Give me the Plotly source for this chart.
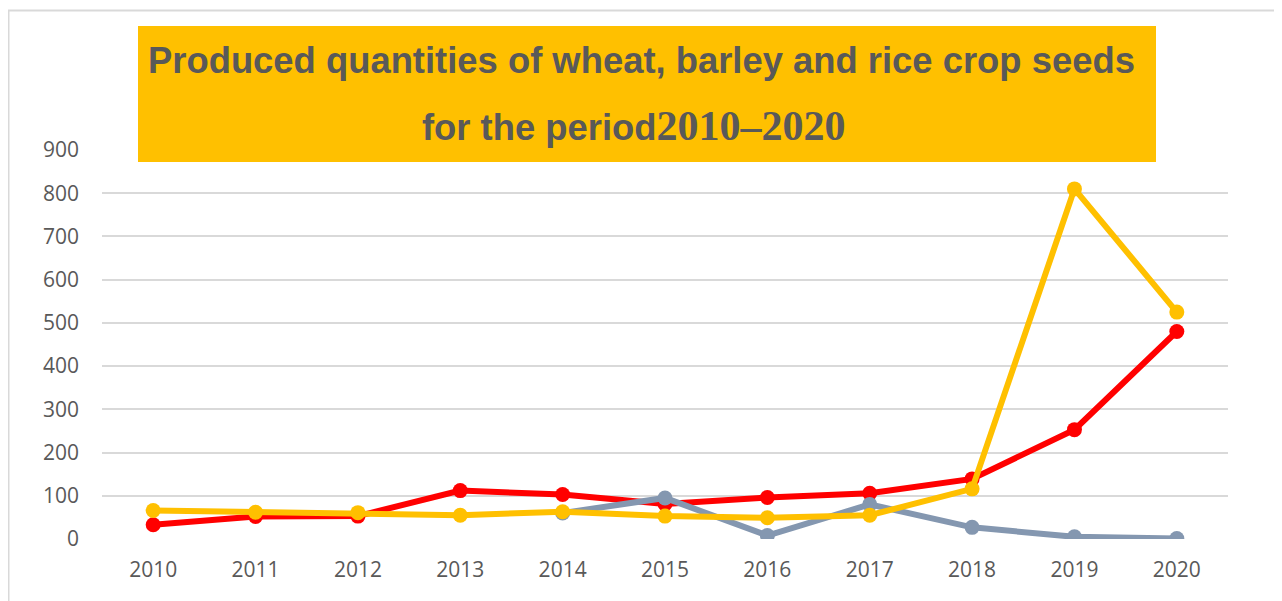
import plotly.graph_objects as go

years = ["2010", "2011", "2012", "2013", "2014", "2015", "2016", "2017", "2018", "2019", "2020"]
wheat = [33, 52, 53, 112, 103, 81, 96, 106, 139, 253, 480]
barley = [None, None, None, None, 60, 95, 8, 80, 27, 5, 1]
rice = [66, 62, 61, 55, 63, 53, 49, 55, 116, 810, 525]
y_ticks = [0, 100, 200, 300, 400, 500, 600, 700, 800, 900]

title_line1 = "Produced quantities of wheat, barley and rice crop seeds"
title_line2a = "for the period"
title_line2b = "2010–2020"

# page body has an 8px margin: figure drawn at screen offset (8, 8)
OX, OY = 8, 8
W, H = 1282 - OX, 601 - OY
# plot area in screen pixels
SX0, SX1, SY0, SY1 = 102, 1228, 150, 539
L, R, T, B = SX0 - OX, 1282 - SX1, SY0 - OY, 601 - SY1
pw, ph = W - L - R, H - T - B

def px(x):
    return (x - SX0) / pw

def py(y):
    return (SY1 - y) / ph

fig = go.Figure()
series = [
    ("Wheat", wheat, "#FF0000"),
    ("Barley", barley, "#8497B0"),
    ("Rice", rice, "#FFC000"),
]
for name, vals, col in series:
    fig.add_trace(go.Scatter(
        x=years, y=vals, name=name, mode="lines+markers",
        line=dict(color=col, width=6),
        marker=dict(color=col, size=15),
        showlegend=False,
    ))

fig.update_layout(
    width=W, height=H,
    margin=dict(l=L, r=R, t=T, b=B, pad=0),
    paper_bgcolor="white", plot_bgcolor="white",
    font=dict(family="Open Sans", color="#595959", size=21),
    xaxis=dict(
        type="category", range=[-0.5, 10.5], showgrid=False, zeroline=False,
        showline=False, ticks="", tickfont=dict(size=21, color="#595959"),
        ticklabelstandoff=16,
    ),
    yaxis=dict(
        range=[0, 900], tickvals=y_ticks, ticktext=[str(v) for v in y_ticks],
        showgrid=True, gridcolor="#d9d9d9", gridwidth=2, zeroline=False,
        showline=False, ticks="", tickfont=dict(size=21, color="#595959"),
        ticklabelstandoff=22,
    ),
    shapes=[
        dict(type="rect", xref="paper", yref="paper",
             x0=px(8.5), x1=px(1400), y0=py(10.5), y1=py(700),
             line=dict(color="#d9d9d9", width=2), fillcolor="rgba(0,0,0,0)",
             layer="below"),
        dict(type="rect", xref="paper", yref="paper",
             x0=px(138), x1=px(1156), y0=py(162), y1=py(26),
             line=dict(width=0), fillcolor="#FFC000", layer="above"),
    ],
    annotations=[
        dict(xref="paper", yref="paper", x=px(641.5), y=py(60.5),
             xanchor="center", yanchor="middle", showarrow=False,
             text="<b>" + title_line1 + "</b>",
             font=dict(family="Liberation Sans", size=36.4, color="#595959")),
        dict(xref="paper", yref="paper", x=px(633.5), y=py(126),
             xanchor="center", yanchor="middle", showarrow=False,
             text="<b>" + title_line2a + "<span style='font-family:Liberation Serif;font-size:42px'>"
                  + title_line2b + "</span></b>",
             font=dict(family="Liberation Sans", size=36.4, color="#595959")),
    ],
)

fig.write_html("out.html")
